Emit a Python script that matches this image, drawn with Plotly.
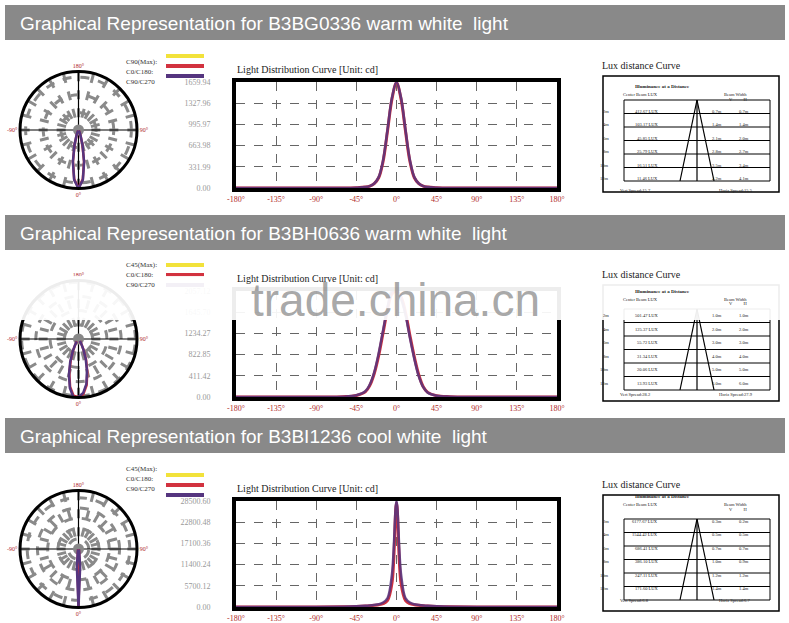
import plotly.graph_objects as go

W, H = 789, 623
titles = ["Graphical Representation for B3BG0336 warm white  light",
          "Graphical Representation for B3BH0636 warm white  light",
          "Graphical Representation for B3BI1236 cool white  light"]
legend_labels = [["C90(Max):", "C0/C180:", "C90/C270"],
                 ["C45(Max):", "C0/C180:", "C90/C270"],
                 ["C45(Max):", "C0/C180:", "C90/C270"]]
ymax = [1659.94, 2057.12, 28500.60]
ytick_vals = [[0, 331.99, 663.98, 995.97, 1327.96, 1659.94],
              [0, 411.42, 822.85, 1234.27, 1645.70, 2057.12],
              [0, 5700.12, 11400.24, 17100.36, 22800.48, 28500.60]]
angles = [-180, -90, -60, -45, -35, -30, -25, -20, -15, -10, -5, 0, 5, 10, 15, 20, 25, 30, 35, 45, 60, 90, 180]
c0_vals = [
    [0, 0, 0, 5, 15, 30, 70, 160, 420, 900, 1400, 1650, 1400, 900, 420, 160, 70, 30, 15, 5, 0, 0, 0],
    [0, 0, 5, 30, 100, 220, 450, 800, 1250, 1700, 2000, 2050, 1950, 1650, 1200, 780, 430, 200, 90, 25, 5, 0, 0],
    [0, 0, 60, 150, 250, 330, 450, 600, 900, 1800, 6500, 28000, 6500, 1800, 900, 600, 450, 330, 250, 150, 60, 0, 0]]
c90_vals = [
    [0, 0, 0, 5, 15, 30, 70, 170, 440, 920, 1420, 1659, 1420, 920, 440, 170, 70, 30, 15, 5, 0, 0, 0],
    [0, 0, 5, 35, 110, 240, 480, 850, 1300, 1750, 2057, 2040, 1900, 1600, 1150, 740, 400, 190, 85, 25, 5, 0, 0],
    [0, 0, 80, 200, 330, 430, 560, 750, 1200, 2400, 9000, 28500, 9000, 2400, 1200, 750, 560, 430, 330, 200, 80, 0, 0]]
dist_labels = ["2m", "4m", "6m", "8m", "10m", "12m"]
lux_vals = [["412.67 LUX", "103.17 LUX", "45.85 LUX", "25.79 LUX", "16.51 LUX", "11.46 LUX"],
            ["501.47 LUX", "125.37 LUX", "55.72 LUX", "31.34 LUX", "20.06 LUX", "13.93 LUX"],
            ["6177.67 LUX", "1544.42 LUX", "686.41 LUX", "386.10 LUX", "247.11 LUX", "171.60 LUX"]]
beam_v = [["0.7m", "1.4m", "2.1m", "2.8m", "3.5m", "4.2m"],
          ["1.0m", "2.0m", "3.0m", "4.0m", "5.0m", "6.0m"],
          ["0.3m", "0.5m", "0.7m", "1.0m", "1.2m", "1.4m"]]
beam_h = [["0.7m", "1.4m", "2.0m", "2.7m", "3.4m", "4.1m"],
          ["1.0m", "2.0m", "3.0m", "4.0m", "5.0m", "6.0m"],
          ["0.2m", "0.5m", "0.7m", "0.9m", "1.2m", "1.4m"]]
vert_spread = ["15.7", "28.2", "6.8"]
horiz_spread = ["15.5", "27.9", "6.7"]
xticks = [-180, -135, -90, -45, 0, 45, 90, 135, 180]
spoke_angles = list(range(0, 360, 15))

YELLOW, RED, PURPLE = "#f2e23a", "#d2323f", "#55357f"
SERIF = "Liberation Serif"
offs = [0, 209, 419]
hdr_offs = [0, 210, 413]

def px(x): return x / W
def py(y): return 1 - y / H

fig = go.Figure()
shapes, ann = [], []

for i in range(3):
    o = offs[i]
    shapes.append(dict(type="rect", xref="paper", yref="paper", x0=px(5), x1=px(785),
                       y0=py(hdr_offs[i] + 40), y1=py(hdr_offs[i] + 5), fillcolor="#898989", line_width=0, layer="below"))
    ann.append(dict(xref="paper", yref="paper", x=px(18), y=py(hdr_offs[i] + 23), text=titles[i], showarrow=False,
                    xanchor="left", yanchor="middle", font=dict(family="Liberation Sans", size=19, color="white")))
    for k, (lab, col) in enumerate(zip(legend_labels[i], [YELLOW, RED, PURPLE])):
        yy = o + 56 + k * 10
        ann.append(dict(xref="paper", yref="paper", x=px(124), y=py(yy), text=lab, showarrow=False, xanchor="left",
                        font=dict(family=SERIF, size=7, color="#333")))
        shapes.append(dict(type="line", xref="paper", yref="paper", x0=px(166), x1=px(204), y0=py(yy), y1=py(yy),
                           line=dict(color=col, width=4)))
    n = "" if i == 0 else str(i + 1)
    xa, ya = "x" + n, "y" + n
    fig.add_trace(go.Scatter(x=angles, y=c0_vals[i], mode="lines", line=dict(color=RED, width=3, shape="spline"),
                             xaxis=xa, yaxis=ya, showlegend=False))
    fig.add_trace(go.Scatter(x=angles, y=c90_vals[i], mode="lines", line=dict(color=PURPLE, width=2.5, shape="spline"),
                             opacity=0.85, xaxis=xa, yaxis=ya, showlegend=False))
    ax = dict(domain=[px(236), px(557)], range=[-180, 180], tickvals=xticks, ticktext=[f"{t}°" for t in xticks],
              showgrid=True, gridcolor="#666", griddash="dash", gridwidth=1, showline=True, linecolor="black",
              linewidth=4, mirror=True, zeroline=False, anchor=ya, ticks="", automargin=False,
              tickfont=dict(family=SERIF, size=8, color="#b02a2a"))
    ay = dict(domain=[py(o + 188), py(o + 82)], range=[0, ymax[i]], tickvals=ytick_vals[i],
              ticktext=[f"{v:.2f}" for v in ytick_vals[i]], showgrid=True, gridcolor="#666", griddash="dash",
              showline=True, linecolor="black", linewidth=4, mirror=True, zeroline=False, anchor=xa, ticks="",
              automargin=False, ticklabelstandoff=20, tickfont=dict(family=SERIF, size=8, color="#999"))
    fig.update_layout(**{"xaxis" + n: ax, "yaxis" + n: ay})
    ann.append(dict(xref="paper", yref="paper", x=px(235), y=py(o + 77), yanchor="bottom",
                    text="Light Distribution Curve [Unit: cd]",
                    showarrow=False, xanchor="left", font=dict(family=SERIF, size=10, color="#222")))
    pn = "polar" + n
    for t in spoke_angles:
        fig.add_trace(go.Scatterpolar(r=[ymax[i] * 0.22, ymax[i]], theta=[t, t], mode="lines",
                                      line=dict(color="#8a8a8a", width=3, dash="dash"), subplot=pn,
                                      showlegend=False, hoverinfo="skip"))
    th = angles[4:19]
    r0 = [c0_vals[i][j] for j in range(4, 19)]
    r9 = [c90_vals[i][j] for j in range(4, 19)]
    for t in [0, 90]:
        fig.add_trace(go.Scatterpolar(r=[ymax[i], ymax[i]], theta=[t, t + 180], mode="lines",
                                      line=dict(color="black", width=1.2), subplot=pn, showlegend=False))
    fig.add_trace(go.Scatterpolar(r=[0], theta=[0], mode="markers", marker=dict(color="#888", size=11),
                                  subplot=pn, showlegend=False))
    for rr, col in [(r0, RED), (r9, PURPLE)]:
        fig.add_trace(go.Scatterpolar(r=rr, theta=th, mode="lines", line=dict(color=col, width=2.5),
                                      subplot=pn, showlegend=False))
    fig.update_layout(**{pn: dict(
        domain=dict(x=[px(20), px(137)], y=[py(o + 189), py(o + 71)]), bgcolor="white",
        radialaxis=dict(range=[0, ymax[i]], showticklabels=False, ticks="", gridcolor="#8a8a8a", griddash="dash",
                        gridwidth=3, showline=False, nticks=6),
        angularaxis=dict(rotation=-90, direction="counterclockwise", tickvals=[0, 90, 180, 270],
                         ticktext=["0°", "90°", "180°", "-90°"], showgrid=False,
                         linecolor="black", linewidth=3, ticks="",
                         tickfont=dict(family=SERIF, size=6, color="#b02a2a")))})
    x0b, x1b, y0b, y1b = 603, 779, o + 76, o + 192
    shapes.append(dict(type="rect", xref="paper", yref="paper", x0=px(x0b), x1=px(x1b), y0=py(y1b), y1=py(y0b),
                       line=dict(color="black", width=1.5)))
    ann.append(dict(xref="paper", yref="paper", x=px(600), y=py(o + 73), yanchor="bottom", text="Lux distance Curve",
                    showarrow=False, xanchor="left", font=dict(family=SERIF, size=10, color="#222")))
    ann.append(dict(xref="paper", yref="paper", x=px(692), y=py(o + 82), text="<b>Illuminance at a Distance</b>",
                    showarrow=False, font=dict(family=SERIF, size=5, color="#222")))
    ann.append(dict(xref="paper", yref="paper", x=px(660), y=py(o + 90), text="Center Beam LUX",
                    showarrow=False, font=dict(family=SERIF, size=4.5, color="#222")))
    ann.append(dict(xref="paper", yref="paper", x=px(749), y=py(o + 90), text="Beam Width",
                    showarrow=False, font=dict(family=SERIF, size=4.5, color="#222")))
    ann.append(dict(xref="paper", yref="paper", x=px(749), y=py(o + 95), text="V          H",
                    showarrow=False, font=dict(family=SERIF, size=4.5, color="#222")))
    top, rh = o + 100, 13.5
    nrows = len(dist_labels)
    for r in range(nrows + 1):
        shapes.append(dict(type="line", xref="paper", yref="paper", x0=px(624), x1=px(770),
                           y0=py(top + r * rh), y1=py(top + r * rh), line=dict(color="black", width=1)))
    for xx in [624, 770]:
        shapes.append(dict(type="line", xref="paper", yref="paper", x0=px(xx), x1=px(xx),
                           y0=py(top), y1=py(top + nrows * rh), line=dict(color="black", width=1)))
    bot = top + nrows * rh
    for xa2 in [680, 697, 714]:
        shapes.append(dict(type="line", xref="paper", yref="paper", x0=px(697), x1=px(xa2),
                           y0=py(top), y1=py(bot), line=dict(color="black", width=1.2)))
    for r in range(nrows):
        yy = top + (r + 0.5) * rh
        for xx, txt in [(611, dist_labels[r]), (660, lux_vals[i][r]), (724, beam_v[i][r]), (751, beam_h[i][r])]:
            ann.append(dict(xref="paper", yref="paper", x=px(xx), y=py(yy), text=txt, showarrow=False,
                            font=dict(family=SERIF, size=4.5, color="#222")))
    ann.append(dict(xref="paper", yref="paper", x=px(618), y=py(bot + 5), text="Vert Spread:" + vert_spread[i],
                    showarrow=False, xanchor="left", font=dict(family=SERIF, size=4.5, color="#222")))
    ann.append(dict(xref="paper", yref="paper", x=px(717), y=py(bot + 5), text="Horiz Spread:" + horiz_spread[i],
                    showarrow=False, xanchor="left", font=dict(family=SERIF, size=4.5, color="#222")))

shapes.append(dict(type="rect", xref="paper", yref="paper", x0=0, x1=1, y0=py(320), y1=py(276),
                   fillcolor="white", opacity=0.93, line_width=0, layer="above"))
ann.append(dict(xref="paper", yref="paper", x=px(395), y=py(300), text="trade.china.cn", showarrow=False,
                font=dict(family="Liberation Sans", size=46, color="rgba(130,130,130,0.7)")))

fig.update_layout(width=W, height=H, margin=dict(l=0, r=0, t=0, b=0, autoexpand=False), paper_bgcolor="white",
                  plot_bgcolor="white", shapes=shapes, annotations=ann, showlegend=False)
fig.write_html("out.html", config={"displayModeBar": False},
               post_script="document.body.style.margin='0';document.body.style.overflow='hidden';")
